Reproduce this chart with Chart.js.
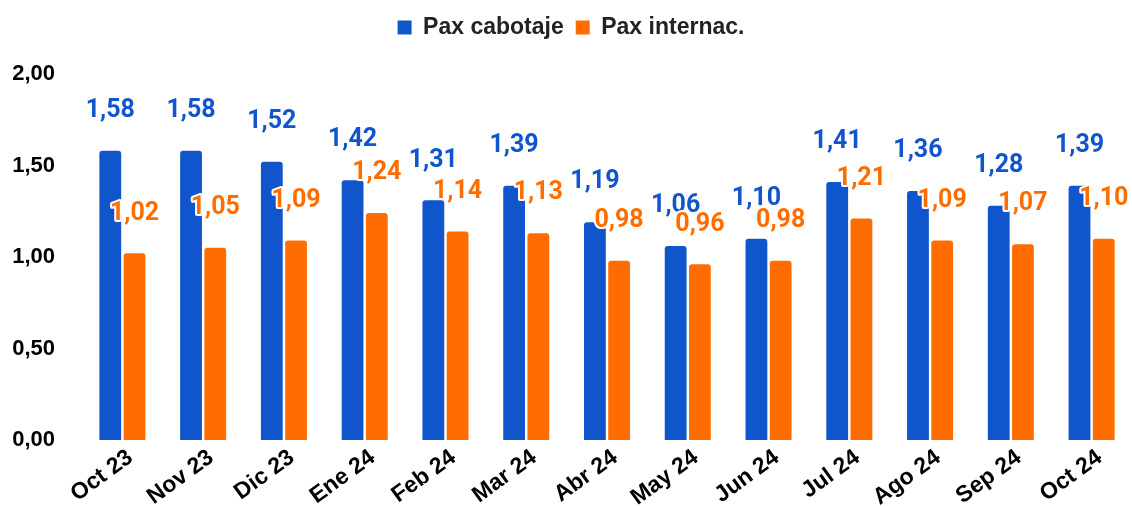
<!DOCTYPE html>
<html>
<head>
<meta charset="utf-8">
<script src="https://cdn.jsdelivr.net/npm/chart.js@4.4.1/dist/chart.umd.min.js"></script>
<style>
html,body{margin:0;padding:0;background:#fff;}
#wrap{width:1132px;height:506px;position:relative;}
</style>
</head>
<body>
<div id="wrap"><canvas id="c"></canvas></div>
<script>
const categories = ["Oct 23","Nov 23","Dic 23","Ene 24","Feb 24","Mar 24","Abr 24","May 24","Jun 24","Jul 24","Ago 24","Sep 24","Oct 24"];
const paxCabotaje = [1.58,1.58,1.52,1.42,1.31,1.39,1.19,1.06,1.10,1.41,1.36,1.28,1.39];
const paxInternac = [1.02,1.05,1.09,1.24,1.14,1.13,0.98,0.96,0.98,1.21,1.09,1.07,1.10];
const seriesNames = ["Pax cabotaje","Pax internac."];
const yTicks = [0,0.5,1,1.5,2];

const BLUE = "#1155CC", ORANGE = "#FF6D01";
const fmt = v => v.toFixed(2).replace(".", ",");

const labelPlugin = {
  id: "valueLabels",
  afterDatasetsDraw(chart) {
    const ctx = chart.ctx;
    ctx.save();
    ctx.font = "bold 25px Roboto";
    ctx.textAlign = "center";
    ctx.textBaseline = "middle";
    ctx.lineJoin = "round";
    chart.data.datasets.forEach((ds, di) => {
      const meta = chart.getDatasetMeta(di);
      meta.data.forEach((bar, i) => {
        const t = fmt(ds.data[i]);
        const x = bar.x, y = bar.y - 40;
        ctx.lineWidth = 4;
        ctx.strokeStyle = "#fff";
        ctx.strokeText(t, x, y);
        ctx.fillStyle = ds.backgroundColor;
        ctx.fillText(t, x, y);
      });
    });
    ctx.restore();
  }
};

const legendSpacer = {
  id: "legendSpacer",
  beforeInit(chart) {
    const orig = chart.legend.fit;
    chart.legend.fit = function() { orig.call(this); this.height += 25; };
  }
};

new Chart(document.getElementById("c"), {
  type: "bar",
  data: {
    labels: categories,
    datasets: [
      { label: seriesNames[0], data: paxCabotaje, backgroundColor: BLUE, borderRadius: {topLeft:3, topRight:3}, borderSkipped: "bottom" },
      { label: seriesNames[1], data: paxInternac, backgroundColor: ORANGE, borderRadius: {topLeft:3, topRight:3}, borderSkipped: "bottom" }
    ]
  },
  options: {
    responsive: true,
    maintainAspectRatio: false,
    animation: false,
    datasets: { bar: { categoryPercentage: 0.6, barPercentage: 0.9 } },
    layout: { padding: { top: 4, left: 10, right: 0, bottom: 0 } },
    plugins: {
      legend: {
        position: "top",
        align: "center",
        labels: {
          boxWidth: 14, boxHeight: 14, padding: 12,
          color: "#222",
          font: { family: "'Liberation Sans', Arial", weight: "bold", size: 23 }
        }
      },
      tooltip: { enabled: false }
    },
    scales: {
      x: {
        grid: { display: false, drawTicks: false },
        border: { display: false },
        afterFit: s => { s.height = 66; },
        ticks: {
          color: "#000",
          minRotation: 36, maxRotation: 36,
          padding: 4,
          labelOffset: 8,
          font: { family: "'Liberation Sans', Arial", weight: "bold", size: 23 }
        }
      },
      y: {
        min: 0, max: 2,
        grid: { display: false, drawTicks: false },
        border: { display: false },
        afterFit: s => { s.width = 72; },
        afterBuildTicks: s => { s.ticks = yTicks.map(v => ({ value: v })); },
        ticks: {
          color: "#000",
          padding: 27,
          callback: v => fmt(v),
          font: { family: "'Liberation Sans', Arial", weight: "bold", size: 22 }
        }
      }
    }
  },
  plugins: [labelPlugin, legendSpacer]
});
</script>
</body>
</html>
